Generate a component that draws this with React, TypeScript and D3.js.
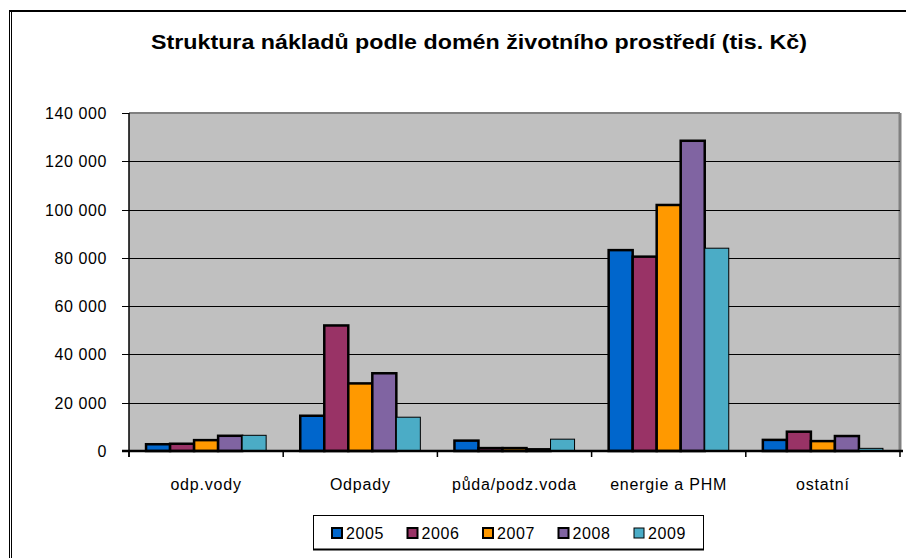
import React, { useEffect, useRef } from "react";
import * as d3 from "d3";

const categories = ["odp.vody", "Odpady", "půda/podz.voda", "energie a PHM", "ostatní"];
const years = ["2005", "2006", "2007", "2008", "2009"];
const colors = ["#0066CC", "#993366", "#FF9900", "#8064A2", "#4BACC6"];

// values per year, in order of categories (tis. Kč)
const v2005 = [2800, 14600, 4300, 83200, 4600];
const v2006 = [3000, 52000, 1200, 80500, 8000];
const v2007 = [4500, 28000, 1200, 101900, 4100];
const v2008 = [6300, 32200, 700, 128500, 6200];
const v2009 = [6500, 14000, 4900, 84000, 1100];
const series = [v2005, v2006, v2007, v2008, v2009];

const yTicks = [0, 20000, 40000, 60000, 80000, 100000, 120000, 140000];

export default function App() {
    const ref = useRef<SVGSVGElement>(null);

    useEffect(() => {
        const svg = d3.select(ref.current);
        svg.selectAll("*").remove();

        const font = "'Liberation Sans', Arial, sans-serif";
        const left = 129, right = 900, top = 113, bottom = 451;

        const fmt = d3.formatLocale({ thousands: " ", grouping: [3], decimal: ",", currency: ["", ""] }).format(",");

        const x = d3.scaleBand().domain(categories).range([left, right]);
        const xi = d3.scaleBand().domain(years).range([0, x.bandwidth()]).paddingInner(0).paddingOuter(0.71);
        const y = d3.scaleLinear().domain([0, 140000]).range([bottom, top]);

        // outer chart frame
        svg.append("line").attr("x1", 9).attr("x2", 906).attr("y1", 11).attr("y2", 11)
            .attr("stroke", "#000").attr("stroke-width", 2);
        svg.append("line").attr("x1", 9.5).attr("x2", 9.5).attr("y1", 10).attr("y2", 558).attr("stroke", "#000");
        svg.append("line").attr("x1", 11.5).attr("x2", 11.5).attr("y1", 10).attr("y2", 558).attr("stroke", "#000");

        // title
        svg.append("text")
            .attr("x", 479).attr("y", 49)
            .attr("text-anchor", "middle")
            .attr("textLength", 656).attr("lengthAdjust", "spacingAndGlyphs")
            .style("font-family", font).style("font-weight", "bold").style("font-size", "21px")
            .text("Struktura nákladů podle domén životního prostředí (tis. Kč)");

        // plot area
        svg.append("rect")
            .attr("x", left).attr("y", top).attr("width", right - left).attr("height", bottom - top)
            .attr("fill", "#C0C0C0");
        svg.append("line").attr("x1", left).attr("x2", right).attr("y1", top).attr("y2", top)
            .attr("stroke", "#808080").attr("stroke-width", 2);
        svg.append("line").attr("x1", right).attr("x2", right).attr("y1", top).attr("y2", bottom)
            .attr("stroke", "#808080").attr("stroke-width", 3);

        // gridlines
        svg.append("g").selectAll("line")
            .data(yTicks.filter(t => t > 0 && t < 140000))
            .enter().append("line")
            .attr("x1", left).attr("x2", right)
            .attr("y1", t => Math.round(y(t)) + 0.5).attr("y2", t => Math.round(y(t)) + 0.5)
            .attr("stroke", "#000");

        // bars
        const groups = svg.append("g").selectAll("g")
            .data(categories)
            .enter().append("g")
            .attr("transform", c => `translate(${x(c)},0)`);

        groups.selectAll("rect")
            .data((c, ci) => years.map((yr, si) => ({ yr, si, value: series[si][ci] })))
            .enter().append("rect")
            .attr("x", d => xi(d.yr)!)
            .attr("y", d => y(d.value))
            .attr("width", xi.bandwidth())
            .attr("height", d => bottom - y(d.value))
            .attr("fill", d => colors[d.si])
            .attr("stroke", "#000")
            .attr("stroke-width", d => (d.si === 4 ? 1 : 2.5));

        // y axis
        svg.append("line").attr("x1", left).attr("x2", left).attr("y1", top).attr("y2", bottom + 6)
            .attr("stroke", "#000").attr("stroke-width", 1.5);
        svg.append("g").selectAll("line")
            .data(yTicks)
            .enter().append("line")
            .attr("x1", left - 7).attr("x2", left)
            .attr("y1", t => Math.round(y(t)) + 0.5).attr("y2", t => Math.round(y(t)) + 0.5)
            .attr("stroke", "#000");
        svg.append("g").selectAll("text")
            .data(yTicks)
            .enter().append("text")
            .attr("x", 107).attr("y", t => y(t) + 6)
            .attr("text-anchor", "end")
            .style("font-family", font).style("font-size", "16px").style("letter-spacing", "0.6px")
            .text(t => fmt(t));

        // x axis
        svg.append("line").attr("x1", left - 7).attr("x2", right + 3).attr("y1", bottom).attr("y2", bottom)
            .attr("stroke", "#000").attr("stroke-width", 2.5);
        svg.append("g").selectAll("line")
            .data([...categories.map(c => x(c)!), right])
            .enter().append("line")
            .attr("x1", d => d).attr("x2", d => d).attr("y1", bottom).attr("y2", bottom + 6)
            .attr("stroke", "#000").attr("stroke-width", 1.5);
        svg.append("g").selectAll("text")
            .data(categories)
            .enter().append("text")
            .attr("x", c => x(c)! + x.bandwidth() / 2).attr("y", 490)
            .attr("text-anchor", "middle")
            .style("font-family", font).style("font-size", "16px").style("letter-spacing", "0.8px")
            .text(c => c);

        // legend
        const lg = svg.append("g");
        lg.append("rect").attr("x", 313.5).attr("y", 515.5).attr("width", 390).attr("height", 34)
            .attr("fill", "#fff").attr("stroke", "#000");
        lg.append("line").attr("x1", 313).attr("x2", 704).attr("y1", 549.5).attr("y2", 549.5)
            .attr("stroke", "#000").attr("stroke-width", 2);
        const items = lg.selectAll("g.item")
            .data(years)
            .enter().append("g")
            .attr("transform", (d, i) => `translate(${332 + i * 75.5},528)`);
        items.append("rect")
            .attr("x", 0).attr("y", 0).attr("width", 10).attr("height", 10)
            .attr("fill", (d, i) => colors[i])
            .attr("stroke", "#000").attr("stroke-width", (d, i) => (i === 4 ? 1 : 2));
        items.append("text")
            .attr("x", 14).attr("y", 11)
            .style("font-family", font).style("font-size", "16px").style("letter-spacing", "0.6px")
            .text(d => d);
    }, []);

    return (
        <svg ref={ref} width={906} height={558}
            style={{ position: "absolute", left: 0, top: 0, background: "#fff" }} />
    );
}
